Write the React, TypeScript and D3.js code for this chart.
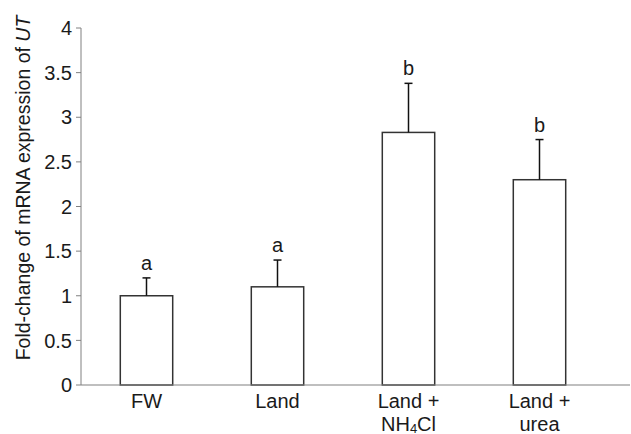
import React from "react";
import * as d3 from "d3";

const categories = ["FW", "Land", "Land + NH4Cl", "Land + urea"];
const labelLines: string[][] = [["FW"], ["Land"], ["Land +", "NH4Cl"], ["Land +", "urea"]];
const means = [1.0, 1.1, 2.83, 2.3];
const errors = [0.2, 0.3, 0.55, 0.45];
const letters = ["a", "a", "b", "b"];
const yTicks = [0, 0.5, 1, 1.5, 2, 2.5, 3, 3.5, 4];

const W = 631, H = 434;
const left = 81, top = 28, bottom = 385, right = 605;

export default function App() {
  const x = d3.scaleBand<string>().domain(categories).range([left, right]).paddingInner(0.6).paddingOuter(0.3);
  const y = d3.scaleLinear().domain([0, 4]).range([bottom, top]);
  const font = "Liberation Sans, Arial, sans-serif";
  const axisColor = "#808080";
  const barColor = "#333";
  const fs = 20;
  const renderLabel = (line: string) => {
    if (line === "NH4Cl") {
      return (
        <>
          NH<tspan fontSize={13} dy={1.5}>4</tspan><tspan dy={-1.5}>Cl</tspan>
        </>
      );
    }
    return line;
  };
  return (
    <svg width={W} height={H} style={{ position: "absolute", left: 0, top: 0 }} fontFamily={font}>
      <rect width={W} height={H} fill="#fff" />
      {/* y axis */}
      <line x1={left} x2={left} y1={top} y2={bottom} stroke={axisColor} strokeWidth={1} />
      {yTicks.map((t) => (
        <g key={t}>
          <line x1={left - 5} x2={left} y1={y(t)} y2={y(t)} stroke={axisColor} />
          <text x={left - 9} y={y(t)} dy="0.36em" textAnchor="end" fontSize={fs} fill="#1a1a1a">
            {t}
          </text>
        </g>
      ))}
      {/* bars */}
      {categories.map((c, i) => {
        const bx = x(c)!;
        const bw = x.bandwidth();
        const cx = bx + bw / 2;
        const yt = y(means[i]);
        const ye = y(means[i] + errors[i]);
        return (
          <g key={c}>
            <rect x={bx} y={yt} width={bw} height={bottom - yt} fill="#fff" stroke={barColor} strokeWidth={1.5} />
            <line x1={cx} x2={cx} y1={yt} y2={ye} stroke="#111" strokeWidth={1.5} />
            <line x1={cx - 4} x2={cx + 4} y1={ye} y2={ye} stroke="#111" strokeWidth={1.5} />
            <text x={cx} y={ye - 8} textAnchor="middle" fontSize={fs} fill="#1a1a1a">
              {letters[i]}
            </text>
            {labelLines[i].map((ln, j) => (
              <text key={j} x={cx} y={408 + j * 23} textAnchor="middle" fontSize={fs} fill="#1a1a1a">
                {renderLabel(ln)}
              </text>
            ))}
          </g>
        );
      })}
      {/* x axis */}
      <line x1={left} x2={630} y1={bottom} y2={bottom} stroke={axisColor} strokeWidth={1.2} />
      {/* y title */}
      <text
        transform={`translate(30, ${188}) rotate(-90)`}
        textAnchor="middle"
        fontSize={19.5}
        fill="#1a1a1a"
      >
        Fold-change of mRNA expression of <tspan fontStyle="italic">UT</tspan>
      </text>
    </svg>
  );
}
